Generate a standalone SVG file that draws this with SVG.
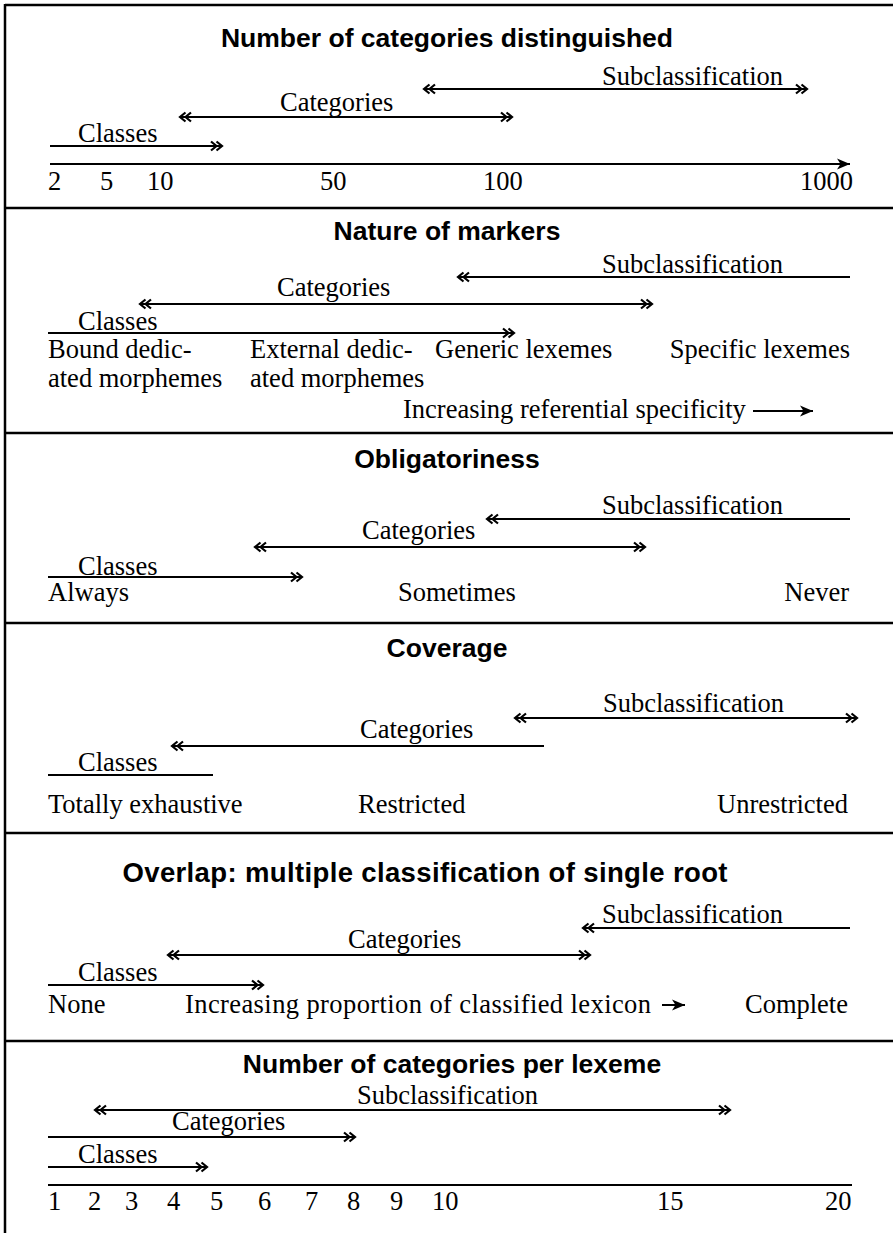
<svg xmlns="http://www.w3.org/2000/svg" width="893" height="1233" viewBox="0 0 893 1233">
<defs>
<style>
.t{font-family:"Liberation Sans",Arial,sans-serif;font-weight:bold;font-size:26.5px;fill:#000;text-anchor:middle}
.s{font-family:"Liberation Serif","Times New Roman",serif;font-size:26.5px;fill:#000}
.e{text-anchor:end}
.fr{stroke:#000;stroke-width:2.5;fill:none}
.ar{stroke:#000;stroke-width:2;fill:none}
.d{marker-end:url(#dbl)}
.b{marker-start:url(#dbl);marker-end:url(#dbl)}
.st{marker-start:url(#dbl)}
.f{marker-end:url(#fil)}
</style>
<marker id="dbl" markerUnits="userSpaceOnUse" markerWidth="14" markerHeight="12" viewBox="-12 -6 14 12" refX="0" refY="0" orient="auto-start-reverse" overflow="visible">
<path d="M-11,-4.5 L-5.5,0 L-11,4.5 M-5.5,-4.5 L0,0 L-5.5,4.5" fill="none" stroke="#000" stroke-width="2.2"/>
</marker>
<marker id="fil" markerUnits="userSpaceOnUse" markerWidth="14" markerHeight="12" viewBox="-13 -6 14 12" refX="0" refY="0" orient="auto" overflow="visible">
<path d="M0,0 L-13,-5.5 L-9.5,0 L-13,5.5 Z" fill="#000"/>
</marker>
</defs>
<rect width="893" height="1233" fill="#fff"/>
<g id="frame">
<line class="fr" x1="5" y1="4" x2="5" y2="1233"/>
<line class="fr" x1="5" y1="5" x2="893" y2="5"/>
<line class="fr" x1="5" y1="208" x2="893" y2="208"/>
<line class="fr" x1="5" y1="433" x2="893" y2="433"/>
<line class="fr" x1="5" y1="623" x2="893" y2="623"/>
<line class="fr" x1="5" y1="833" x2="893" y2="833"/>
<line class="fr" x1="5" y1="1041" x2="893" y2="1041"/>
</g>
<g id="connectors">
<line class="ar b" x1="424" y1="89" x2="807" y2="89"/>
<line class="ar b" x1="180" y1="117" x2="512" y2="117"/>
<line class="ar d" x1="50" y1="146" x2="222" y2="146"/>
<line class="ar f" x1="50" y1="164" x2="850" y2="164"/>
<line class="ar st" x1="458" y1="277" x2="850" y2="277"/>
<line class="ar b" x1="140" y1="304" x2="652" y2="304"/>
<line class="ar d" x1="48" y1="333" x2="514" y2="333"/>
<line class="ar f" x1="753" y1="411" x2="813" y2="411"/>
<line class="ar st" x1="487" y1="519" x2="850" y2="519"/>
<line class="ar b" x1="255" y1="547" x2="645" y2="547"/>
<line class="ar d" x1="48" y1="577" x2="302" y2="577"/>
<line class="ar b" x1="515" y1="718" x2="857" y2="718"/>
<line class="ar st" x1="172" y1="746" x2="544" y2="746"/>
<line class="ar" x1="48" y1="775" x2="213" y2="775"/>
<line class="ar st" x1="583" y1="928" x2="850" y2="928"/>
<line class="ar b" x1="168" y1="955" x2="590" y2="955"/>
<line class="ar d" x1="48" y1="985" x2="263" y2="985"/>
<line class="ar f" x1="662" y1="1005" x2="685" y2="1005"/>
<line class="ar b" x1="95" y1="1110" x2="730" y2="1110"/>
<line class="ar d" x1="48" y1="1137" x2="355" y2="1137"/>
<line class="ar d" x1="48" y1="1167" x2="207" y2="1167"/>
<line class="ar" x1="48" y1="1185" x2="852" y2="1185"/>
</g>
<g id="panel1">
<text class="t" x="447" y="47">Number of categories distinguished</text>
<text class="s" x="602" y="85">Subclassification</text>
<text class="s" x="280" y="111">Categories</text>
<text class="s" x="78" y="142">Classes</text>
<text class="s" x="48" y="190">2</text>
<text class="s" x="100" y="190">5</text>
<text class="s" x="147" y="190">10</text>
<text class="s" x="320" y="190">50</text>
<text class="s" x="483" y="190">100</text>
<text class="s" x="800" y="190">1000</text>
</g>
<g id="panel2">
<text class="t" x="447" y="240">Nature of markers</text>
<text class="s" x="602" y="273">Subclassification</text>
<text class="s" x="277" y="296">Categories</text>
<text class="s" x="78" y="330">Classes</text>
<text class="s" x="48" y="358">Bound dedic-</text>
<text class="s" x="48" y="387">ated morphemes</text>
<text class="s" x="250" y="358">External dedic-</text>
<text class="s" x="250" y="387">ated morphemes</text>
<text class="s" x="435" y="358">Generic lexemes</text>
<text class="s e" x="850" y="358">Specific lexemes</text>
<text class="s" x="403" y="418">Increasing referential specificity</text>
</g>
<g id="panel3">
<text class="t" x="447" y="468">Obligatoriness</text>
<text class="s" x="602" y="514">Subclassification</text>
<text class="s" x="362" y="539">Categories</text>
<text class="s" x="78" y="575">Classes</text>
<text class="s" x="48" y="601">Always</text>
<text class="s" x="398" y="601">Sometimes</text>
<text class="s e" x="849" y="601">Never</text>
</g>
<g id="panel4">
<text class="t" x="447" y="657">Coverage</text>
<text class="s" x="603" y="712">Subclassification</text>
<text class="s" x="360" y="738">Categories</text>
<text class="s" x="78" y="771">Classes</text>
<text class="s" x="48" y="813">Totally exhaustive</text>
<text class="s" x="358" y="813">Restricted</text>
<text class="s e" x="848" y="813">Unrestricted</text>
</g>
<g id="panel5">
<text class="t" x="425" y="882" style="font-size:27.5px" textLength="605" lengthAdjust="spacing">Overlap: multiple classification of single root</text>
<text class="s" x="602" y="923">Subclassification</text>
<text class="s" x="348" y="948">Categories</text>
<text class="s" x="78" y="981">Classes</text>
<text class="s" x="48" y="1013">None</text>
<text class="s" x="185" y="1013" textLength="466" lengthAdjust="spacing">Increasing proportion of classified lexicon</text>
<text class="s e" x="848" y="1013">Complete</text>
</g>
<g id="panel6">
<text class="t" x="452" y="1073">Number of categories per lexeme</text>
<text class="s" x="357" y="1104">Subclassification</text>
<text class="s" x="172" y="1130">Categories</text>
<text class="s" x="78" y="1163">Classes</text>
<text class="s" x="48" y="1210">1</text>
<text class="s" x="88" y="1210">2</text>
<text class="s" x="125" y="1210">3</text>
<text class="s" x="167" y="1210">4</text>
<text class="s" x="210" y="1210">5</text>
<text class="s" x="258" y="1210">6</text>
<text class="s" x="305" y="1210">7</text>
<text class="s" x="347" y="1210">8</text>
<text class="s" x="390" y="1210">9</text>
<text class="s" x="432" y="1210">10</text>
<text class="s" x="657" y="1210">15</text>
<text class="s" x="825" y="1210">20</text>
</g>
</svg>
